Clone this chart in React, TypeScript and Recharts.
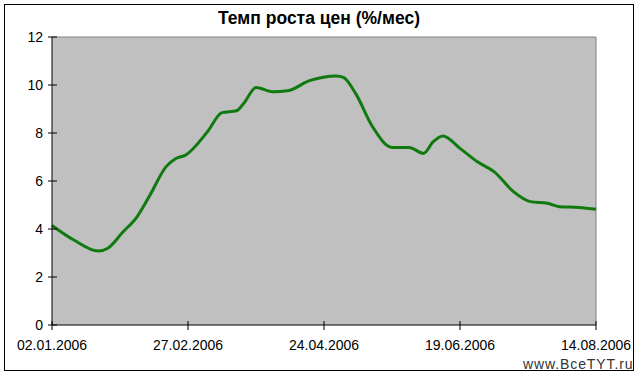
import { LineChart, Line, XAxis, YAxis, CartesianGrid, ReferenceLine } from "recharts";

const days = [0, 9, 19, 23, 29, 35, 40, 47, 51, 55, 64, 70, 76, 79, 84, 91, 97, 106, 117, 120, 125, 132, 140, 147, 153, 157, 161, 168, 175, 182, 190, 197, 204, 209, 217, 224];
const rates = [4.15, 3.54, 3.08, 3.2, 3.85, 4.51, 5.35, 6.6, 6.94, 7.08, 8.05, 8.85, 8.93, 9.24, 9.9, 9.72, 9.76, 10.18, 10.38, 10.32, 9.65, 8.26, 7.4, 7.4, 7.15, 7.64, 7.88, 7.36, 6.81, 6.39, 5.56, 5.14, 5.07, 4.93, 4.9, 4.82];
const xTicks = [0, 56, 112, 168, 224];
const xLabels = ["02.01.2006", "27.02.2006", "24.04.2006", "19.06.2006", "14.08.2006"];
const yTicks = [0, 2, 4, 6, 8, 10, 12];

const data = days.map((d, i) => ({ day: d, rate: rates[i] }));

const FONT = "'Liberation Sans', Arial, sans-serif";

function YTick(props: any) {
  const { x, y, payload } = props;
  const axisX = x + 8;
  return (
    <g>
      <line x1={axisX - 4} x2={axisX + 5} y1={y} y2={y} stroke="#000" />
      <text x={axisX - 9} y={y + 5} textAnchor="end" fontSize={14} fontFamily={FONT} fill="#000">
        {payload.value}
      </text>
    </g>
  );
}

function XTick(props: any) {
  const { x, y, payload, index } = props;
  const axisY = y - 7;
  return (
    <g>
      <line x1={x} x2={x} y1={axisY - 4} y2={axisY + 5} stroke="#000" />
      <text x={x} y={axisY + 25} textAnchor="middle" fontSize={14} fontFamily={FONT} fill="#000">
        {xLabels[index] ?? payload.value}
      </text>
    </g>
  );
}

export default function App() {
  return (
    <div style={{ position: "absolute", left: 0, top: 0, width: 638, height: 375, background: "#fff", fontFamily: FONT }}>
      <div style={{ position: "absolute", left: 4, top: 4, width: 628, height: 365, border: "1px solid #000" }} />
      <div style={{ position: "absolute", left: 0, top: 8, width: 638, textAlign: "center", fontSize: 17.5, fontWeight: "bold", color: "#000" }}>
        Темп роста цен (%/мес)
      </div>
      <div style={{ position: "absolute", left: 0, top: 0 }}>
        <LineChart width={638} height={375} data={data} margin={{ top: 37, right: 42, bottom: 20, left: 12 }}>
          <CartesianGrid fill="#c0c0c0" horizontal={false} vertical={false} />
          <ReferenceLine y={12} stroke="#808080" />
          <ReferenceLine x={224} stroke="#808080" />
          <XAxis
            type="number"
            dataKey="day"
            domain={[0, 224]}
            ticks={xTicks}
            height={30}
            tickSize={5}
            tickMargin={2}
            tickLine={false}
            axisLine={{ stroke: "#000" }}
            tick={<XTick />}
            interval={0}
          />
          <YAxis
            type="number"
            domain={[0, 12]}
            ticks={yTicks}
            width={40}
            tickSize={5}
            tickMargin={3}
            tickLine={false}
            axisLine={{ stroke: "#000" }}
            tick={<YTick />}
            interval={0}
          />
          <Line type="monotone" dataKey="rate" stroke="#0f7a0f" strokeWidth={3} dot={false} isAnimationActive={false} />
        </LineChart>
      </div>
      <div style={{ position: "absolute", left: 523, top: 356, fontSize: 14, letterSpacing: 0.9, color: "#333", lineHeight: "16px", whiteSpace: "nowrap" }}>
        www.BceTYT.ru
      </div>
    </div>
  );
}
